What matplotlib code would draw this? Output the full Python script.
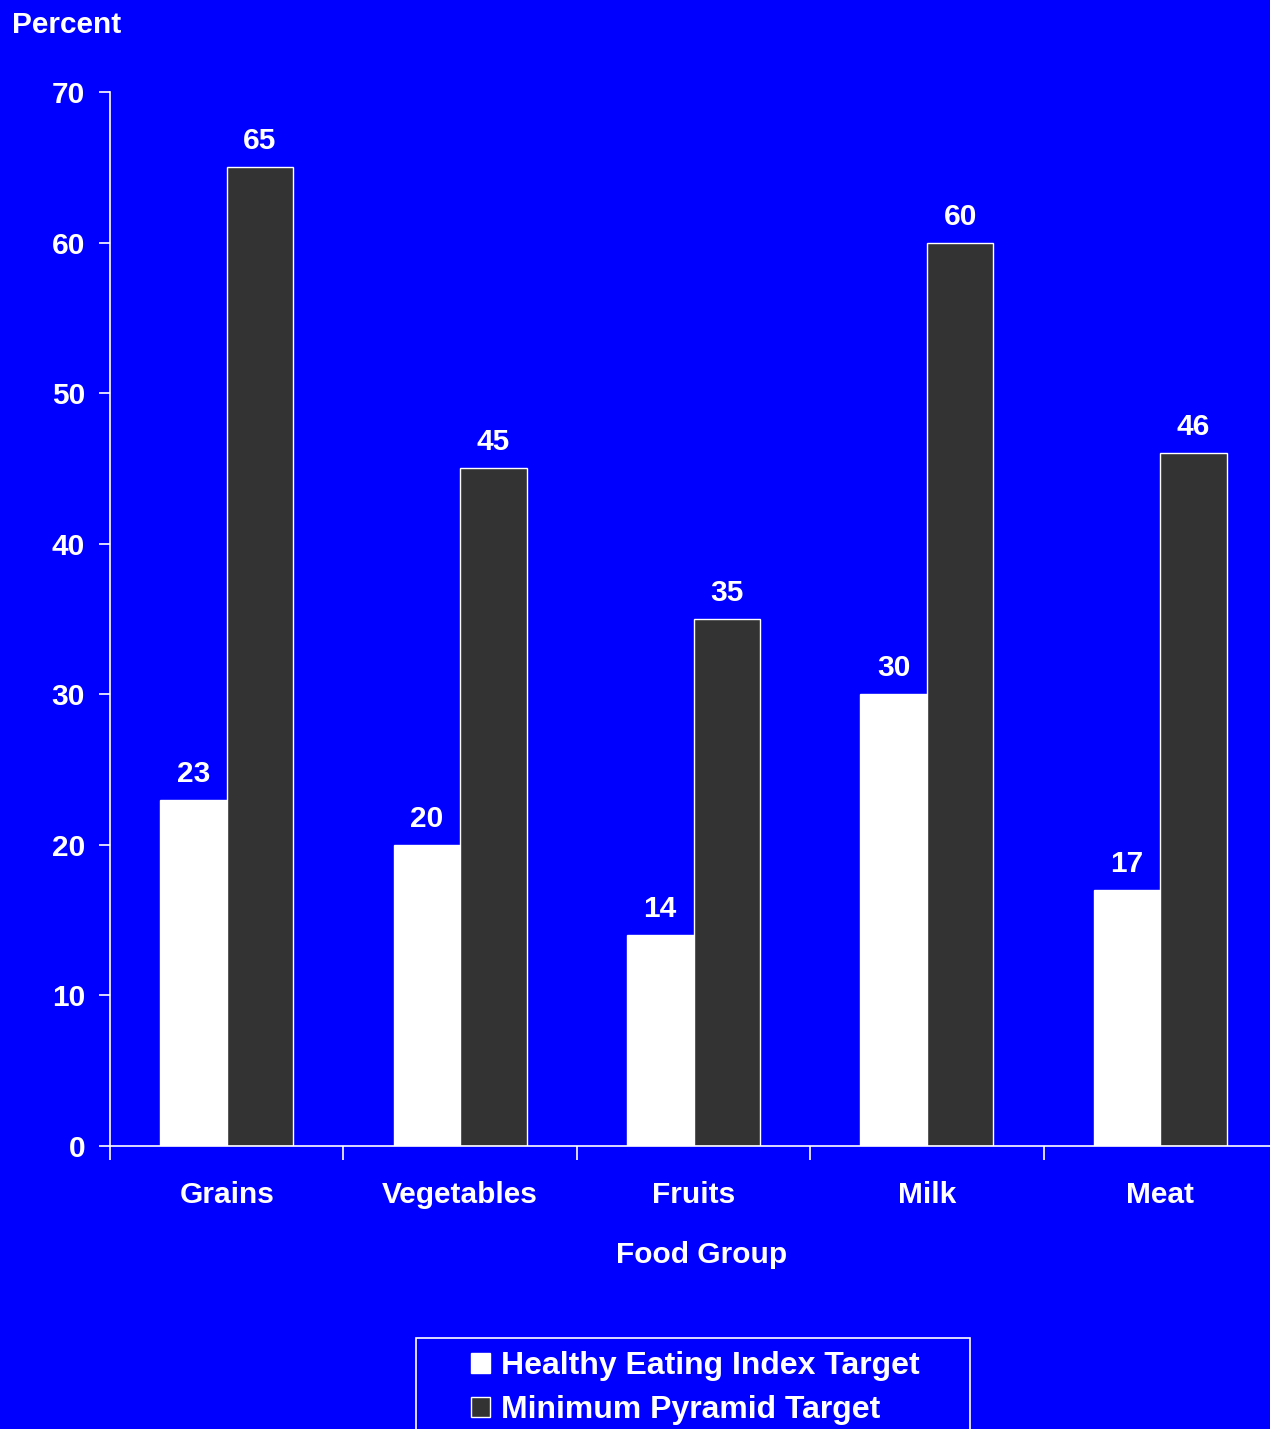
import matplotlib.pyplot as plt
from matplotlib.patches import Rectangle, Patch
import numpy as np

plt.rcParams['font.family'] = ['Liberation Sans', 'DejaVu Sans']
plt.rcParams['font.weight'] = 'bold'

groups = ['Grains', 'Vegetables', 'Fruits', 'Milk', 'Meat']
hei_target = [23, 20, 14, 30, 17]
pyramid_target = [65, 45, 35, 60, 46]
series_names = ['Healthy Eating Index Target', 'Minimum Pyramid Target']

BLUE = '#0000FF'
DARK = '#333333'
W, H = 1270, 1429
FS = 21.5

fig = plt.figure(figsize=(W / 100, H / 100), dpi=100, facecolor=BLUE)
ax = fig.add_axes([110 / W, 1 - 1146 / H, 1167 / W, 1054 / H])
ax.set_facecolor(BLUE)

x = np.arange(len(groups)) + 0.5
w = 0.285
b1 = ax.bar(x - w / 2, hei_target, w, color='white', edgecolor='white', linewidth=1)
b2 = ax.bar(x + w / 2, pyramid_target, w, color=DARK, edgecolor='white', linewidth=1)

for bars, vals in ((b1, hei_target), (b2, pyramid_target)):
    for r, v in zip(bars, vals):
        ax.text(r.get_x() + r.get_width() / 2, v + 0.8, str(v), ha='center', va='bottom',
                color='white', fontsize=FS, fontweight='bold')

ax.set_xlim(0, 5)
ax.set_ylim(0, 70)
ax.set_yticks(np.arange(0, 71, 10))
ax.set_xticks(np.arange(0, 5))
ax.set_xticklabels([])
ax.set_xticks(x, minor=True)
ax.set_xticklabels(groups, minor=True)
ax.tick_params(axis='x', which='major', length=10, width=1.2, color='white', direction='out')
ax.tick_params(axis='x', which='minor', length=0, pad=25, labelsize=FS, labelcolor='white')
ax.tick_params(axis='y', length=8, width=1.2, color='white', pad=10, labelsize=FS, labelcolor='white')
for lbl in ax.get_yticklabels() + ax.get_xticklabels(minor=True):
    lbl.set_fontweight('bold')

for s in ('top', 'right'):
    ax.spines[s].set_visible(False)
for s in ('left', 'bottom'):
    ax.spines[s].set_color('white')
    ax.spines[s].set_linewidth(1.2)

fig.text(12 / W, 1 - 25 / H, 'Percent', ha='left', va='center', color='white',
         fontsize=FS, fontweight='bold')
fig.text(702 / W, 1 - 1255 / H, 'Food Group', ha='center', va='center', color='white',
         fontsize=FS, fontweight='bold')

# legend box runs off the bottom edge
fig.patches.append(Rectangle((416 / W, -0.05), (970 - 416) / W, 0.05 + (H - 1338) / H,
                             transform=fig.transFigure, facecolor='none',
                             edgecolor='white', linewidth=1.2))
handles = [Patch(facecolor='white', edgecolor='white', linewidth=1),
           Patch(facecolor=DARK, edgecolor='white', linewidth=1)]
leg = fig.legend(handles, series_names, loc='upper left',
                 bbox_to_anchor=(471 / W, 1 - 1351 / H), frameon=False,
                 borderpad=0, borderaxespad=0, handlelength=0.6, handleheight=0.6,
                 handletextpad=0.35, labelspacing=0.45, prop={'size': 23, 'weight': 'bold'})
for t in leg.get_texts():
    t.set_color('white')

fig.savefig('out.png', dpi=100, facecolor=BLUE)
